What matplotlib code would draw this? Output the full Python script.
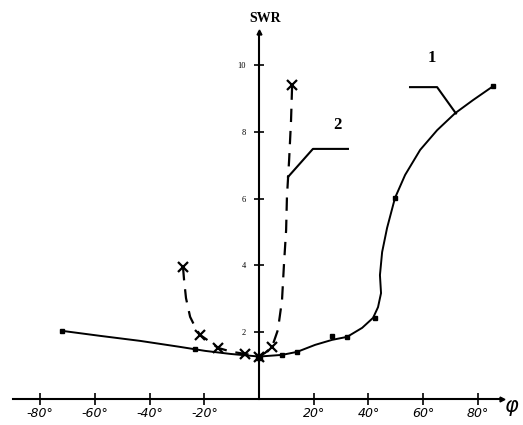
import matplotlib.pyplot as plt

# curve 1 (solid, dots)
c1_phi = [-72.0, -58.1, -43.5, -28.9, -19.7, -10.6, 0.0, 8.4, 13.9, 20.5, 26.7, 32.2, 37.7,
          41.7, 43.5, 44.6, 44.2, 45.0, 46.8, 49.7, 53.4, 58.9, 65.1, 71.7, 78.2, 85.6]
c1_swr = [2.04, 1.89, 1.74, 1.56, 1.44, 1.35, 1.27, 1.32, 1.41, 1.62, 1.77, 1.86, 2.13,
          2.43, 2.75, 3.17, 3.71, 4.40, 5.12, 6.02, 6.71, 7.46, 8.05, 8.56, 8.95, 9.37]
c1_dot_phi = [-72.0, -23.4, 8.4, 13.9, 26.7, 32.2, 42.3, 49.7, 85.6]
c1_dot_swr = [2.04, 1.50, 1.32, 1.41, 1.89, 1.86, 2.43, 6.02, 9.37]

# curve 2 (dashed, crosses)
c2_phi = [-27.8, -27.4, -26.7, -25.2, -23.4, -21.6, -17.9, -15.0, -9.9, -5.1, 0.0, 2.2,
          4.75, 6.9, 8.4, 9.1, 9.9, 10.2, 11.0, 11.7, 12.1]
c2_swr = [3.95, 3.56, 3.02, 2.46, 2.16, 1.92, 1.71, 1.53, 1.41, 1.35, 1.27, 1.38,
          1.56, 2.07, 2.96, 4.01, 5.06, 6.05, 7.16, 8.35, 9.40]
c2_x_phi = [-27.8, -21.6, -15.0, -5.1, 0.0, 4.75, 12.1]
c2_x_swr = [3.95, 1.92, 1.53, 1.35, 1.27, 1.56, 9.40]

x_ticks = [-80, -60, -40, -20, 20, 40, 60, 80]
x_labels = ["-80°", "-60°", "-40°", "-20°", "20°", "40°", "60°", "80°"]
y_ticks = [2, 4, 6, 8, 10]

# leader lines for the curve numbers
lead1_phi = [55.2, 65.1, 72.0]
lead1_swr = [9.34, 9.34, 8.55]
lead2_phi = [10.6, 19.7, 32.5]
lead2_swr = [6.65, 7.49, 7.49]

fig = plt.figure(figsize=(5.23, 4.25), dpi=100)
ax = fig.add_axes([0, 0, 1, 1])
ax.set_xlim(-94.7, 96.5)
ax.set_ylim(-0.78, 11.95)

for s in ["top", "right"]:
    ax.spines[s].set_visible(False)
ax.spines["left"].set_position(("data", 0))
ax.spines["bottom"].set_position(("data", 0))
ax.spines["left"].set_bounds(0, 11)
ax.spines["bottom"].set_bounds(-90, 89)
ax.spines["left"].set_linewidth(1.5)
ax.spines["bottom"].set_linewidth(1.5)
# arrow tips at the axis ends
ax.plot(0, 11, "^k", ms=3.5, clip_on=False)
ax.plot(89, 0, ">k", ms=3.5, clip_on=False)

ax.set_xticks(x_ticks)
ax.set_xticklabels(x_labels, fontsize=9, style="italic", family="DejaVu Sans")
ax.set_yticks(y_ticks)
ax.set_yticklabels([str(v) for v in y_ticks], fontsize=6, family="Liberation Serif")
ax.tick_params(axis="x", direction="inout", length=9, width=1.2, pad=1)
ax.tick_params(axis="y", direction="inout", length=7, width=1.2, pad=6)

ax.plot(c1_phi, c1_swr, "k-", lw=1.4)
ax.plot(c1_dot_phi, c1_dot_swr, "ks", ms=2.5)
ax.plot(c2_phi, c2_swr, "k", lw=1.6, linestyle=(0, (6, 4)))
ax.plot(c2_x_phi, c2_x_swr, "kx", ms=7, mew=1.6)
ax.plot(0, 1.27, "ks", ms=4)

ax.plot(lead1_phi, lead1_swr, "k-", lw=1.5)
ax.plot(lead2_phi, lead2_swr, "k-", lw=1.5)
ax.text(63.3, 10.2, "1", fontsize=12, fontweight="bold", family="Liberation Serif", ha="center", va="center")
ax.text(28.5, 8.2, "2", fontsize=12, fontweight="bold", family="Liberation Serif", ha="center", va="center")
ax.text(2.2, 11.4, "SWR", fontsize=10, fontweight="bold", family="Liberation Serif", ha="center", va="center")
ax.text(92.5, -0.2, "φ", fontsize=15, family="DejaVu Sans", style="italic", ha="center", va="center")

fig.savefig("out.png", dpi=100)
